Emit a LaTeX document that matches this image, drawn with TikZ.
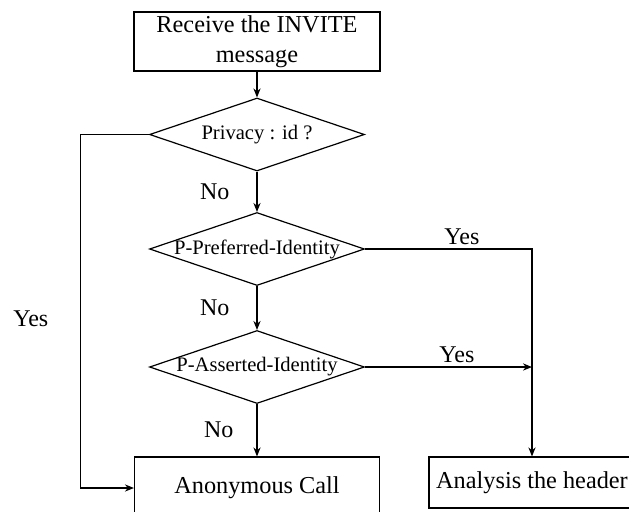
\documentclass[tikz,border=0pt]{standalone}
\usepackage{fontspec}
\setmainfont{Liberation Serif}
\usetikzlibrary{shapes.geometric,arrows.meta}

\begin{document}
\begin{tikzpicture}[x=0.5pt,y=-0.5pt,line width=0.6pt,>={Stealth[length=4.5pt,width=3.6pt]},
  block/.style = {draw,rectangle,inner sep=0pt,align=center,font=\fontsize{12.15}{15}\selectfont},
  decision/.style = {draw,diamond,inner sep=0pt,minimum width=107.5pt,minimum height=36.5pt,font=\fontsize{10.3}{12}\selectfont},
  lbl/.style = {inner sep=1pt,font=\fontsize{12}{14}\selectfont}]
\clip (0,0) rectangle (629,511);
\node[block,minimum width=123pt,minimum height=29.5pt] (recv) at (257,41.5) {Receive the INVITE\\message};
\node[decision] (priv) at (257,134.5) {\makebox[0pt]{Privacy : id ?}};
\node[decision] (pref) at (257,249) {\makebox[0pt]{P-Preferred-Identity}};
\node[decision] (asrt) at (257,367) {\makebox[0pt]{P-Asserted-Identity}};
\node[block,minimum width=122.5pt,minimum height=31pt] (anon) at (257,488) {Anonymous Call};
\node[block,minimum width=103pt,minimum height=25.5pt] (anal) at (532,482.5) {Analysis the header};

\draw[->] (recv) -- (priv);
\draw[->] (priv) -- node[lbl,left=12.5pt] (no1) {No} (pref);
\draw[->] (pref) -- node[lbl,left=12.5pt] (no2) {No} (asrt);
\draw[->] (asrt) -- node[lbl,left=10.5pt] (no3) {No} (anon);
\draw[->] (priv.west) -- ++(-68,0) |- node[lbl,left=15pt,pos=0.26] (yes0) {Yes} (anon.west);
\draw[->] (pref.east) -- node[lbl,above=0.7pt,pos=0.58] (yes1) {Yes} (pref.east -| anal.north) -- (anal.north);
\draw[->] (asrt.east) -- node[lbl,above=0.7pt,pos=0.55] (yes2) {Yes} (asrt.east -| anal.north);
\end{tikzpicture}
\end{document}
